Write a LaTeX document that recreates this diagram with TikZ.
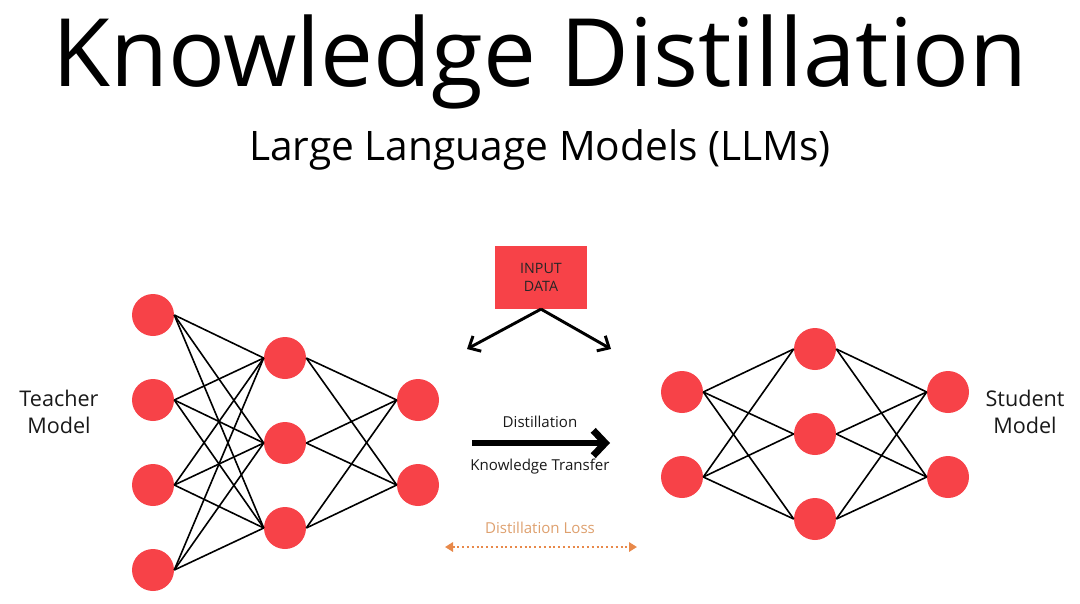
\documentclass[tikz,border=0pt]{standalone}
\usepackage{fontspec}
\setmainfont{Open Sans}
\usetikzlibrary{arrows.meta}
\definecolor{nred}{RGB}{247,66,72}
\definecolor{lossor}{RGB}{232,137,74}
\definecolor{losstx}{RGB}{222,160,110}
\tikzset{
  neuron/.style={circle,fill=nred,draw=none,minimum size=31.5pt,inner sep=0pt},
  link/.style={line width=1.2pt,black},
  lbl/.style={font=\fontsize{16.2}{20}\selectfont,align=center,text=black!90},
  small/.style={font=\fontsize{11.3}{13}\selectfont,text=black!90},
}
\begin{document}
\begin{tikzpicture}[x=0.75pt,y=-0.75pt]
\useasboundingbox (0,0) rectangle (1080,603);
% titles
\node (title) at (540,62) {\fontsize{70.8}{74}\selectfont Knowledge Distillation};
\node (sub) at (540,150) {\fontsize{30.5}{34}\selectfont Large Language Models (LLMs)};
% teacher
\foreach \i/\y in {1/315,2/400,3/485,4/570} \node[neuron] (a\i) at (153,\y) {};
\foreach \i/\y in {1/358,2/443,3/528} \node[neuron] (b\i) at (285,\y) {};
\foreach \i/\y in {1/400,2/485} \node[neuron] (c\i) at (418,\y) {};
\foreach \i in {1,...,4} \foreach \j in {1,2,3} \draw[link] (a\i.east) -- (b\j.west);
\foreach \i in {1,2,3} \foreach \j in {1,2} \draw[link] (b\i.east) -- (c\j.west);
% student
\foreach \i/\y in {1/392,2/477} \node[neuron] (d\i) at (682,\y) {};
\foreach \i/\y in {1/349,2/434,3/519} \node[neuron] (e\i) at (815,\y) {};
\foreach \i/\y in {1/392,2/477} \node[neuron] (f\i) at (948,\y) {};
\foreach \i in {1,2} \foreach \j in {1,2,3} \draw[link] (d\i.east) -- (e\j.west);
\foreach \i in {1,2,3} \foreach \j in {1,2} \draw[link] (e\i.east) -- (f\j.west);
% labels
\node[lbl] (teach) at (59,412) {Teacher\\Model};
\node[lbl] (stud) at (1025,412) {Student\\Model};
% input data
\node[fill=nred,minimum width=69pt,minimum height=47pt,inner sep=0pt,align=center,
  font=\fontsize{10.7}{14}\selectfont,text=black!85] (inp) at (541,277.5) {INPUT\\DATA};
\coordinate (lt) at (467,349);
\coordinate (rt) at (611,349);
\draw[line width=2.2pt,-{Straight Barb[length=7pt,width=13pt,line width=2.2pt]}] (inp.south) -- (lt);
\draw[line width=2.2pt,-{Straight Barb[length=7pt,width=13pt,line width=2.2pt]}] (inp.south) -- (rt);
% distillation arrow
\coordinate (ds) at (472,443);
\coordinate (de) at (610,443);
\draw[line width=5.2pt,-{Straight Barb[length=9pt,width=19pt,line width=5.2pt]}] (ds) -- (de);
\node[small] (dl) at (540,422) {Distillation};
\node[small] (kt) at (540,467) {Knowledge Transfer};
% loss
\node[small,text=losstx] (ll) at (540,528) {Distillation Loss};
\coordinate (ls) at (445,547);
\coordinate (le) at (637,547);
\draw[lossor,line width=1.6pt,dotted,{Triangle[length=6pt,width=7pt]}-{Triangle[length=6pt,width=7pt]}] (ls) -- (le);
\end{tikzpicture}
\end{document}
